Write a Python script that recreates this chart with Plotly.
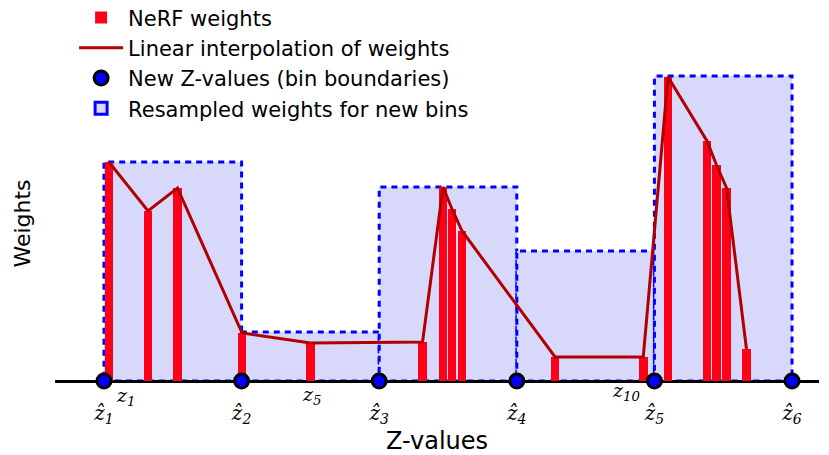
import plotly.graph_objects as go

# ---- data ----
zhat = [0, 1, 2, 3, 4, 5]                       # new z-values (bin boundaries)
zhat_labels = ["<i>ẑ<sub>1</sub></i>", "<i>ẑ<sub>2</sub></i>", "<i>ẑ<sub>3</sub></i>",
               "<i>ẑ<sub>4</sub></i>", "<i>ẑ<sub>5</sub></i>", "<i>ẑ<sub>6</sub></i>"]
bin_weights = [2.19, 0.49, 1.94, 1.30, 3.05]    # resampled weights per new bin

sample_z = [0.036, 0.320, 0.534, 1.003, 1.501, 2.315, 2.464, 2.529,
            2.602, 3.278, 3.919, 4.099, 4.382, 4.451, 4.524, 4.669]
sample_w = [2.19, 1.70, 1.93, 0.48, 0.38, 0.39, 1.94, 1.72,
            1.50, 0.24, 0.24, 3.04, 2.40, 2.16, 1.93, 0.32]

sample_labels = ["<i>z<sub>1</sub></i>", "<i>z<sub>5</sub></i>", "<i>z<sub>10</sub></i>"]
sample_label_z = [0.153, 1.51, 3.79]
label_yshift = [-1, 0, 4]

RED = "#ff0019"
DARKRED = "#b00000"
BLUE = "#0000ff"
FILL = "rgb(216,216,250)"
SANS = "DejaVu Sans"
SERIF = "DejaVu Serif"

fig = go.Figure()

fig.add_trace(go.Bar(
    x=sample_z, y=sample_w, width=0.062, name="NeRF weights",
    marker=dict(color=RED, line=dict(width=0)),
))
fig.add_trace(go.Scatter(
    x=sample_z, y=sample_w, mode="lines", name="Linear interpolation of weights",
    line=dict(color=DARKRED, width=3),
))
fig.add_trace(go.Scatter(
    x=zhat, y=[0] * len(zhat), mode="markers", name="New Z-values (bin boundaries)",
    marker=dict(color=BLUE, size=14, line=dict(color="black", width=3)),
    cliponaxis=False,
))

# resampled bins as shapes drawn below the traces
for i, w in enumerate(bin_weights):
    fig.add_shape(
        type="rect", xref="x", yref="y",
        x0=zhat[i], x1=zhat[i + 1], y0=0, y1=w,
        fillcolor=FILL, line=dict(color=BLUE, width=3, dash="6px,5px"),
        layer="below", name="Resampled weights for new bins",
        showlegend=(i == 0), legendgroup="bins",
    )

for lab, zx, ys in zip(sample_labels, sample_label_z, label_yshift):
    fig.add_annotation(x=zx, y=0, xref="x", yref="y", text=lab, showarrow=False,
                       yanchor="top", yshift=ys,
                       font=dict(family=SERIF, size=19, color="black"))

fig.update_layout(
    width=829, height=455,
    margin=dict(l=47, r=18, t=48, b=72, autoexpand=False),
    paper_bgcolor="white", plot_bgcolor="white",
    showlegend=True,
    legend=dict(x=0.025, y=1.1753, xanchor="left", yanchor="top",
                bgcolor="rgba(0,0,0,0)", font=dict(family=SANS, size=21, color="black"),
                tracegroupgap=0, itemwidth=44),
    xaxis=dict(range=[-0.356, 5.196], showgrid=False, zeroline=False, showline=False,
               automargin=False,
               tickvals=zhat, ticktext=zhat_labels, ticks="", ticklabelstandoff=8,
               tickfont=dict(family=SERIF, size=20, color="black"),
               title=dict(text="Z-values", font=dict(family=SANS, size=24, color="black"),
                          standoff=2)),
    yaxis=dict(range=[-0.1, 3.25], showgrid=False, showticklabels=False, ticks="",
               automargin=False,
               zeroline=True, zerolinecolor="black", zerolinewidth=3,
               title=dict(text="Weights", font=dict(family=SANS, size=22, color="black"),
                          standoff=17)),
    bargap=0,
)

fig.write_html("out.html")
